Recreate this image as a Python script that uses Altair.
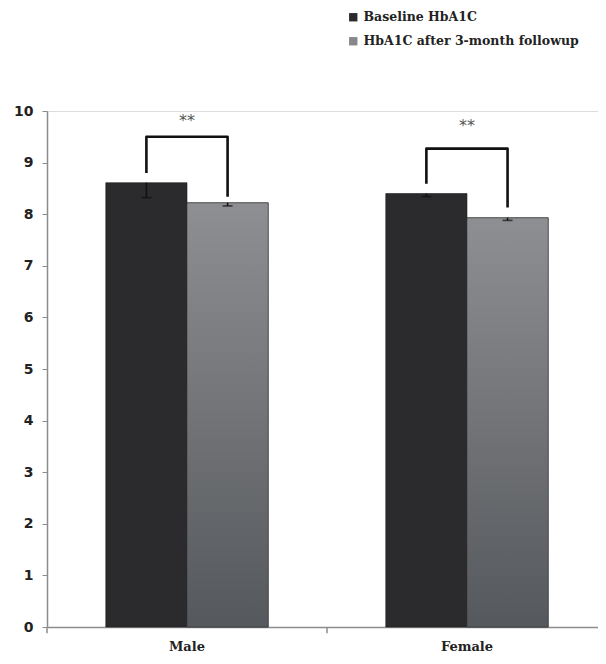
import altair as alt
import pandas as pd

groups = ["Male", "Female"]
series = ["Baseline HbA1C", "HbA1C after 3-month followup"]
baseline = [8.61, 8.40]
followup = [8.22, 7.93]
baseline_err = [0.29, 0.06]
followup_err = [0.06, 0.05]
bracket_left_low = [8.80, 8.59]
bracket_top = [9.50, 9.27]
bracket_right_low = [8.34, 8.13]
star_y = [9.81, 9.71]
star_text = ["**", "**"]

DARK = "#2b2b2e"
LIGHT = "#86888b"
BAR_W = 0.29

rows = []
for gi, g in enumerate(groups):
    c = gi + 0.5
    for si, (vals, errs) in enumerate([(baseline, baseline_err), (followup, followup_err)]):
        x0 = c - BAR_W if si == 0 else c
        rows.append({"group": g, "series": series[si], "x": x0, "x2": x0 + BAR_W,
                     "xc": x0 + BAR_W / 2, "value": vals[gi],
                     "low": vals[gi] - errs[gi]})
bars = pd.DataFrame(rows)

brows = []
for gi, g in enumerate(groups):
    c = gi + 0.5
    xl, xr = c - BAR_W / 2, c + BAR_W / 2
    pts = [(xl, bracket_left_low[gi]), (xl, bracket_top[gi]),
           (xr, bracket_top[gi]), (xr, bracket_right_low[gi])]
    for k, (px, py) in enumerate(pts):
        brows.append({"group": g, "order": k, "x": px, "y": py})
brk = pd.DataFrame(brows)

stars = pd.DataFrame({"x": [i + 0.5 for i in range(len(groups))], "y": star_y, "t": star_text})
labels = pd.DataFrame({"x": [i + 0.5 for i in range(len(groups))], "y": [0, 0], "t": groups})
ticks = pd.DataFrame({"x": [0, 1], "y": [0, 0], "y2": [-0.12, -0.12]})

xs = alt.Scale(domain=[0, 1.968], nice=False, zero=False)
ys = alt.Scale(domain=[0, 10], nice=False)

xenc = alt.X("x:Q", scale=xs, axis=alt.Axis(values=[0.5, 1.5], labels=False, ticks=False,
                                             title=None, grid=False, domainColor="#8c8c8c",
                                             domainWidth=1.5))
yenc = alt.Y("value:Q", scale=ys, axis=alt.Axis(values=list(range(0, 11)), title=None, grid=False,
                                                 labelFont="DejaVu Sans", labelFontWeight="bold",
                                                 labelFontSize=14, labelColor="#222222",
                                                 tickColor="#8c8c8c", domainColor="#8c8c8c",
                                                 domainWidth=1.5, tickSize=5, labelPadding=9))

bar_layer = alt.Chart(bars).mark_bar(stroke="#1a1a1a", strokeWidth=0.6).encode(
    x=xenc, x2="x2:Q", y=yenc, y2=alt.datum(0),
    color=alt.Color("series:N", scale=alt.Scale(domain=series, range=[DARK, LIGHT]),
                    legend=alt.Legend(title=None, orient="none", legendX=300, legendY=-100,
                                      symbolType="square", symbolSize=70, symbolStrokeWidth=0,
                                      labelFont="DejaVu Serif", labelFontSize=12.5,
                                      labelFontWeight="bold", labelColor="#222222",
                                      labelLimit=400, rowPadding=11, labelOffset=4))
)

grad = alt.Gradient(gradient="linear", x1=0, y1=0, x2=0, y2=1,
                    stops=[alt.GradientStop(color="#8e8f92", offset=0),
                           alt.GradientStop(color="#55585c", offset=1)])
grad_layer = alt.Chart(bars).transform_filter(alt.datum.series == series[1]).mark_bar(
    color=grad, stroke="#3a3a3a", strokeWidth=0.6).encode(x="x:Q", x2="x2:Q", y="value:Q",
                                                          y2=alt.datum(0))

err_rule = alt.Chart(bars).mark_rule(color="#111111", strokeWidth=1.6).encode(
    x="xc:Q", y="low:Q", y2="value:Q")
err_cap = alt.Chart(bars).mark_tick(color="#111111", orient="horizontal", size=10, thickness=1.6).encode(
    x="xc:Q", y="low:Q")

bracket = alt.Chart(brk).mark_line(color="#111111", strokeWidth=2.6, strokeJoin="round",
                                   strokeCap="butt", interpolate="linear").encode(
    x="x:Q", y="y:Q", detail="group:N", order="order:Q")

star_layer = alt.Chart(stars).mark_text(font="DejaVu Sans", fontSize=16, color="#555555",
                                        baseline="middle").encode(x="x:Q", y="y:Q", text="t:N")

label_layer = alt.Chart(labels).mark_text(font="DejaVu Serif", fontSize=13, fontWeight="bold",
                                          color="#222222", baseline="middle", dy=20).encode(
    x="x:Q", y="y:Q", text="t:N")

tick_layer = alt.Chart(ticks).mark_rule(color="#8c8c8c", strokeWidth=1.5).encode(
    x="x:Q", y="y:Q", y2="y2:Q")

chart = alt.layer(bar_layer, grad_layer, err_rule, err_cap, bracket, star_layer,
                  label_layer, tick_layer).properties(
    width=551, height=516,
    autosize=alt.AutoSizeParams(type="none"),
    padding={"left": 39, "top": 103, "right": 0, "bottom": 29},
).configure_view(stroke=None).configure(background="white")

chart.save("out.html", embed_options={"renderer": "svg", "actions": False})
